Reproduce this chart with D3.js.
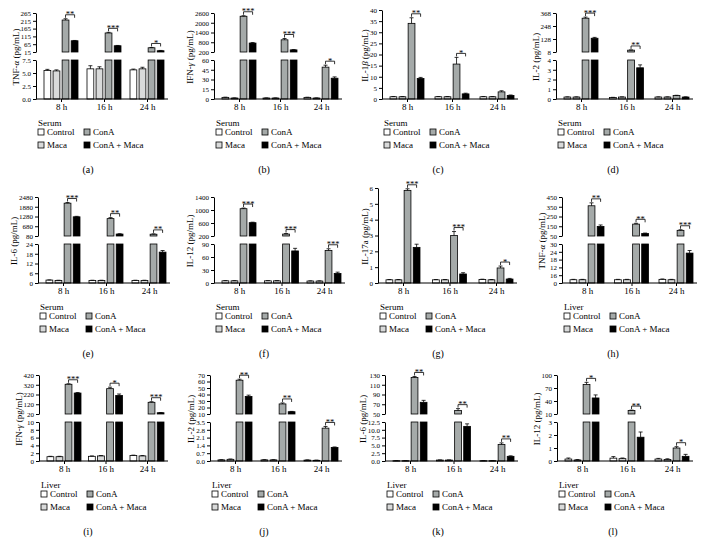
<!DOCTYPE html>
<html><head><meta charset="utf-8">
<script src="https://cdn.jsdelivr.net/npm/d3@7"></script>
<style>
body{margin:0;background:#fff}
svg{display:block}
text{font-family:"Liberation Serif","Times New Roman",serif;fill:#000}
</style>
</head><body>
<svg id="chart" width="702" height="547"></svg>
<script>
const groups = ["8 h", "16 h", "24 h"];
const seriesNames = ["Control", "Maca", "ConA", "ConA + Maca"];
const seriesColors = ["#ffffff", "#d9dada", "#a5aaa9", "#000000"];

// (a) TNF-α serum
const aMean = [[5.5, 5.4, 220, 87], [5.8, 5.8, 137, 55], [5.6, 5.8, 42, 23]];
const aErr = [[0.2, 0.2, 8, 2], [0.6, 0.4, 4, 2], [0.15, 0.3, 2, 2]];
const aStars = ["**", "***", "*"];
const aTicksLow = [0, 2.5, 5, 7.5];
const aTicksHigh = [15, 65, 115, 165, 215, 265];
// (b) IFN-γ serum
const bMean = [[2.5, 1.5, 2400, 750], [1.5, 1.5, 950, 330], [2.5, 1.5, 49, 32]];
const bErr = [[0.3, 0.2, 30, 30], [0.2, 0.2, 80, 20], [0.2, 0.2, 3, 2]];
const bStars = ["***", "***", "*"];
const bTicksLow = [0, 15, 30, 45, 60];
const bTicksHigh = [200, 800, 1400, 2000, 2600];
// (c) IL-1β serum
const cMean = [[1, 1, 34, 9.2], [1, 1, 15.7, 2.3], [1, 1, 3.2, 1.6]];
const cErr = [[0.1, 0.1, 2.5, 0.5], [0.1, 0.1, 3, 0.3], [0.1, 0.1, 0.5, 0.2]];
const cStars = ["**", "*", ""];
const cTicks = [0, 5, 10, 15, 20, 25, 30, 35, 40];
// (d) IL-2 serum
const dMean = [[0.2, 0.2, 320, 135], [0.15, 0.2, 25, 3.2], [0.2, 0.2, 0.35, 0.2]];
const dErr = [[0.02, 0.02, 10, 8], [0.02, 0.02, 2, 0.3], [0.02, 0.02, 0.03, 0.02]];
const dStars = ["***", "**", ""];
const dTicksLow = [0, 1, 2, 3, 4];
const dTicksHigh = [8, 128, 248, 368];
// (e) IL-6 serum
const eMean = [[1.8, 1.6, 2100, 1260], [1.6, 1.6, 1150, 200], [1.6, 1.6, 190, 19]];
const eErr = [[0.1, 0.1, 40, 30], [0.1, 0.1, 60, 20], [0.1, 0.1, 20, 1]];
const eStars = ["***", "**", "**"];
const eTicksLow = [0, 6, 12, 18, 24];
const eTicksHigh = [80, 680, 1280, 1880, 2480];
// (f) IL-12 serum
const fMean = [[5, 5, 1040, 610], [5, 5, 260, 74], [4.5, 4.5, 75, 22]];
const fErr = [[0.5, 0.5, 20, 15], [0.5, 0.5, 15, 6], [0.5, 0.5, 4, 3]];
const fStars = ["***", "***", "***"];
const fTicksLow = [0, 30, 60, 90];
const fTicksHigh = [200, 600, 1000, 1400];
// (g) IL-17a serum
const gMean = [[0.2, 0.2, 5.85, 2.25], [0.2, 0.2, 3.0, 0.57], [0.22, 0.2, 0.95, 0.25]];
const gErr = [[0.02, 0.02, 0.1, 0.2], [0.02, 0.02, 0.25, 0.08], [0.02, 0.02, 0.12, 0.04]];
const gStars = ["***", "***", "*"];
const gTicks = [0, 1, 2, 3, 4, 5, 6];
// (h) TNF-α liver
const hMean = [[2.5, 2.5, 360, 148], [2.5, 2.5, 172, 75], [2.8, 2.5, 108, 23]];
const hErr = [[0.3, 0.3, 30, 15], [0.3, 0.3, 8, 5], [0.3, 0.3, 6, 2]];
const hStars = ["**", "**", "***"];
const hTicksLow = [0, 6, 12, 18, 24, 30];
const hTickLabelsLow = ["0", "16", "12", "18", "24", "30"];
const hTicksHigh = [50, 150, 250, 350, 450];
// (i) IFN-γ liver
const iMean = [[1.1, 1.1, 325, 235], [1.2, 1.3, 280, 210], [1.4, 1.3, 140, 33]];
const iErr = [[0.1, 0.1, 5, 5], [0.1, 0.1, 15, 15], [0.1, 0.1, 6, 2]];
const iStars = ["***", "*", "***"];
const iTicksLow = [0, 2, 4, 6, 8, 10];
const iTicksHigh = [20, 120, 220, 320, 420];
// (j) IL-2 liver
const jMean = [[0.1, 0.15, 62, 37], [0.1, 0.1, 25.5, 13.5], [0.08, 0.06, 2.95, 1.22]];
const jErr = [[0.02, 0.03, 1.5, 2], [0.02, 0.02, 1.5, 0.5], [0.02, 0.02, 0.15, 0.04]];
const jStars = ["**", "**", "**"];
const jTicksLow = [0, 0.7, 1.4, 2.1, 2.8, 3.5];
const jTicksHigh = [10, 20, 30, 40, 50, 60, 70];
// (k) IL-6 liver
const kMean = [[0.1, 0.1, 125, 74], [0.3, 0.3, 57, 11.1], [0.1, 0.1, 5.3, 1.5]];
const kErr = [[0.02, 0.02, 2, 4], [0.05, 0.05, 4, 0.8], [0.02, 0.02, 0.5, 0.15]];
const kStars = ["**", "**", "**"];
const kTicksLow = [0, 2.5, 5, 7.5, 10, 12.5];
const kTicksHigh = [50, 70, 90, 110, 130];
// (l) IL-12 liver
const lMean = [[0.15, 0.08, 78, 47], [0.22, 0.18, 18, 1.83], [0.15, 0.12, 1.0, 0.36]];
const lErr = [[0.08, 0.03, 5, 7], [0.12, 0.05, 1, 0.4], [0.05, 0.05, 0.1, 0.15]];
const lStars = ["*", "**", "*"];
const lTicksLow = [0, 1, 2, 3];
const lTicksHigh = [10, 40, 70, 100];

const f1 = d3.format(".1f");
const panels = [
  {cap:"(a)", src:"Serum", title:[["TNF-",0],["α",1],[" (pg/mL)",0]], mean:aMean, err:aErr, stars:aStars, low:aTicksLow, high:aTicksHigh, lowFmt:f1, x0:36, x1:168, B:99, cx:88},
  {cap:"(b)", src:"Serum", title:[["IFN-",0],["γ",1],[" (pg/mL)",0]], mean:bMean, err:bErr, stars:bStars, low:bTicksLow, high:bTicksHigh, x0:214, x1:342, B:99, cx:264},
  {cap:"(c)", src:"Serum", title:[["IL-1",0],["β",1],[" (pg/mL)",0]], mean:cMean, err:cErr, stars:cStars, low:cTicks, high:null, H:89, x0:382, x1:518, B:99, cx:438},
  {cap:"(d)", src:"Serum", title:[["IL-2 (pg/mL)",0]], mean:dMean, err:dErr, stars:dStars, low:dTicksLow, high:dTicksHigh, x0:556, x1:693, B:99, cx:613},
  {cap:"(e)", src:"Serum", title:[["IL-6 (pg/mL)",0]], mean:eMean, err:eErr, stars:eStars, low:eTicksLow, high:eTicksHigh, x0:38, x1:170, B:283, cx:88},
  {cap:"(f)", src:"Serum", title:[["IL-12 (pg/mL)",0]], mean:fMean, err:fErr, stars:fStars, low:fTicksLow, high:fTicksHigh, x0:214, x1:345, B:283, cx:264},
  {cap:"(g)", src:"Serum", title:[["IL-17a (pg/mL)",0]], mean:gMean, err:gErr, stars:gStars, low:gTicks, high:null, H:95, x0:378, x1:517, B:283, cx:438},
  {cap:"(h)", src:"Liver", title:[["TNF-",0],["α",1],[" (pg/mL)",0]], mean:hMean, err:hErr, stars:hStars, low:hTicksLow, lowLabels:hTickLabelsLow, high:hTicksHigh, x0:562, x1:697, B:283, cx:613},
  {cap:"(i)", src:"Liver", title:[["IFN-",0],["γ",1],[" (pg/mL)",0]], mean:iMean, err:iErr, stars:iStars, low:iTicksLow, high:iTicksHigh, x0:39, x1:168, B:461, cx:88},
  {cap:"(j)", src:"Liver", title:[["IL-2 (pg/mL)",0]], mean:jMean, err:jErr, stars:jStars, low:jTicksLow, lowFmt:f1, high:jTicksHigh, x0:210, x1:342, B:461, cx:264},
  {cap:"(k)", src:"Liver", title:[["IL-6 (pg/mL)",0]], mean:kMean, err:kErr, stars:kStars, low:kTicksLow, lowFmt:f1, high:kTicksHigh, x0:385, x1:518, B:461, cx:438},
  {cap:"(l)", src:"Liver", title:[["IL-12 (pg/mL)",0]], mean:lMean, err:lErr, stars:lStars, low:lTicksLow, high:lTicksHigh, x0:557, x1:693, B:461, cx:613}
];

const svg = d3.select("#chart");

function styleAxis(ax, fs){
  ax.selectAll("path,line").attr("stroke","#000").attr("stroke-width",1);
  ax.selectAll("text").style("font-family",'"Liberation Serif",serif').style("font-size", fs).attr("fill","#000");
}

panels.forEach(p => {
  const g = svg.append("g");
  const B = p.B;
  const x = d3.scalePoint().domain(groups).range([p.x0 + 25, p.x1 - 21]);
  const xi = d3.scaleBand().domain(seriesNames).range([-17, 17]).paddingInner(0.25);
  const lowMax = d3.max(p.low);
  let yLow, yHigh = null, top;
  if (p.high) {
    yLow = d3.scaleLinear().domain([0, lowMax]).range([B, B - 39]);
    yHigh = d3.scaleLinear().domain(d3.extent(p.high)).range([B - 47, B - 86]);
    top = B - 86;
  } else {
    yLow = d3.scaleLinear().domain([0, lowMax]).range([B, B - p.H]);
    top = B - p.H;
  }
  const yv = v => (!yHigh || v <= lowMax) ? yLow(v) : yHigh(v);

  // bars
  const bars = g.append("g");
  p.mean.forEach((row, gi) => {
    row.forEach((v, si) => {
      const bx = x(groups[gi]) + xi(seriesNames[si]);
      const bw = xi.bandwidth();
      const segs = [];
      if (yHigh && v > lowMax) {
        segs.push([yLow(lowMax), B]);
        segs.push([yHigh(v), yHigh.range()[0]]);
      } else {
        segs.push([yLow(v), B]);
      }
      segs.forEach(s => {
        bars.append("rect").attr("x", bx).attr("y", s[0]).attr("width", bw).attr("height", Math.max(0.5, s[1] - s[0]))
          .attr("fill", seriesColors[si]).attr("stroke", "#000").attr("stroke-width", 0.8);
      });
      const e = p.err[gi][si];
      const cxb = bx + bw / 2;
      const ye = yv(v + e);
      bars.append("line").attr("x1", cxb).attr("x2", cxb).attr("y1", yv(v)).attr("y2", ye).attr("stroke", "#000").attr("stroke-width", 0.8);
      bars.append("line").attr("x1", cxb - 2).attr("x2", cxb + 2).attr("y1", ye).attr("y2", ye).attr("stroke", "#000").attr("stroke-width", 0.8);
    });
    // significance
    const s = p.stars[gi];
    if (s) {
      const xa = x(groups[gi]) + xi("ConA") + xi.bandwidth() / 2;
      const xb = x(groups[gi]) + xi("ConA + Maca") + xi.bandwidth() / 2;
      const yb = Math.min(yv(row[2] + p.err[gi][2]), yv(row[3] + p.err[gi][3])) - 4;
      g.append("path").attr("d", `M${xa},${yb + 3}V${yb}H${xb}V${yb + 3}`).attr("fill", "none").attr("stroke", "#000").attr("stroke-width", 0.8);
      g.append("text").attr("x", (xa + xb) / 2).attr("y", yb + 2.5).attr("text-anchor", "middle").style("font-size", "8.5px").text(s);
    }
  });

  // y axes
  const yAxes = g.append("g");
  const axLow = d3.axisLeft(yLow).tickValues(p.low).tickSize(3).tickSizeOuter(0).tickPadding(2);
  if (p.lowLabels) axLow.tickFormat((d, i) => p.lowLabels[i]);
  else if (p.lowFmt) axLow.tickFormat(p.lowFmt);
  else axLow.tickFormat(d3.format("d"));
  const gl = yAxes.append("g").attr("transform", `translate(${p.x0},0)`).call(axLow);
  styleAxis(gl, "7px");
  if (yHigh) {
    const axHigh = d3.axisLeft(yHigh).tickValues(p.high).tickSize(3).tickSizeOuter(0).tickPadding(2).tickFormat(d3.format("d"));
    const gh = yAxes.append("g").attr("transform", `translate(${p.x0},0)`).call(axHigh);
    styleAxis(gh, "7px");
  }

  // x axis
  const xa = d3.axisBottom(x).tickSize(3).tickPadding(2);
  const gx = g.append("g").attr("transform", `translate(0,${B})`).call(xa);
  gx.select(".domain").remove();
  gx.append("line").attr("x1", p.x0).attr("x2", p.x1).attr("y1", 0).attr("y2", 0);
  styleAxis(gx, "9px");

  // y title
  const bb = yAxes.node().getBBox();
  const t = g.append("text").attr("transform", `translate(${bb.x - 2},${(B + top) / 2 + 1}) rotate(-90)`)
    .attr("text-anchor", "middle").style("font-size", "9px");
  p.title.forEach(([s, it]) => {
    t.append("tspan").style("font-style", it ? "italic" : "normal").text(s);
  });

  // legend
  const lx = p.x0 + 2;
  g.append("text").attr("x", lx).attr("y", B + 27).style("font-size", "9px").text(p.src);
  const pos = [[0, 0], [0, 1], [46, 0], [46, 1]];
  seriesNames.forEach((n, si) => {
    const [dx, r] = pos[si];
    const ly = B + 33 + r * 13;
    g.append("rect").attr("x", lx + dx).attr("y", ly - 3).attr("width", 6).attr("height", 6)
      .attr("fill", seriesColors[si]).attr("stroke", "#000").attr("stroke-width", 0.8);
    g.append("text").attr("x", lx + dx + 9).attr("y", ly + 3).style("font-size", "9px").text(n);
  });

  // caption
  g.append("text").attr("x", p.cx).attr("y", B + 74).attr("text-anchor", "middle").style("font-size", "10px").text(p.cap);
});
</script>
</body></html>
